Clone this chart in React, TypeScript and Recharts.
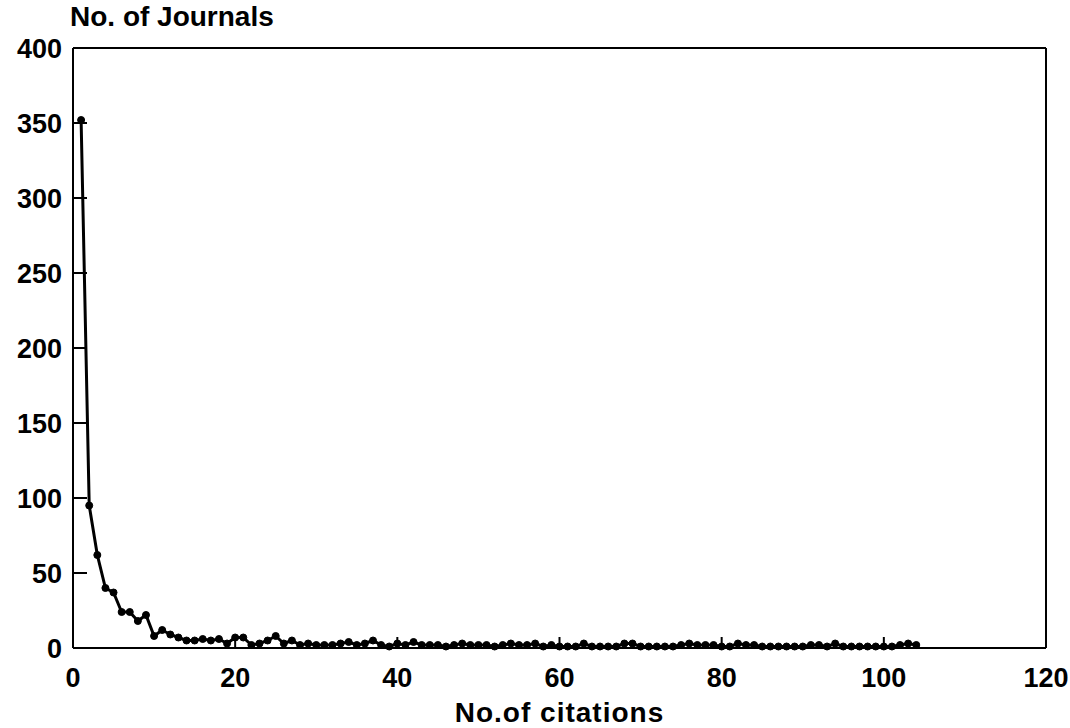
import { Line, LineChart, ReferenceLine, XAxis, YAxis } from 'recharts';

// number of citations received (x) and how many journals got that many (y)
const citations = [
    1, 2, 3, 4, 5, 6, 7, 8, 9, 10, 11, 12, 13, 14, 15, 16, 17, 18, 19, 20,
    21, 22, 23, 24, 25, 26, 27, 28, 29, 30, 31, 32, 33, 34, 35, 36, 37, 38, 39, 40,
    41, 42, 43, 44, 45, 46, 47, 48, 49, 50, 51, 52, 53, 54, 55, 56, 57, 58, 59, 60,
    61, 62, 63, 64, 65, 66, 67, 68, 69, 70, 71, 72, 73, 74, 75, 76, 77, 78, 79, 80,
    81, 82, 83, 84, 85, 86, 87, 88, 89, 90, 91, 92, 93, 94, 95, 96, 97, 98, 99, 100,
    101, 102, 103, 104,
];

const journals = [
    352, 95, 62, 40, 37, 24, 24, 18, 22, 8, 12, 9, 7, 5, 5, 6, 5, 6, 3, 7,
    7, 2, 3, 5, 8, 3, 5, 2, 3, 2, 2, 2, 3, 4, 2, 3, 5, 2, 1, 3,
    2, 4, 2, 2, 2, 1, 2, 3, 2, 2, 2, 1, 2, 3, 2, 2, 3, 1, 2, 1,
    1, 1, 3, 1, 1, 1, 1, 3, 3, 1, 1, 1, 1, 1, 2, 3, 2, 2, 2, 1,
    1, 3, 2, 2, 1, 1, 1, 1, 1, 1, 2, 2, 1, 3, 1, 1, 1, 1, 1, 1,
    1, 2, 3, 2,
];

const xTicks = [0, 20, 40, 60, 80, 100, 120];
const yTicks = [0, 50, 100, 150, 200, 250, 300, 350, 400];

const data = citations.map((c, i) => ({ citations: c, journals: journals[i] }));

const font = '"Liberation Sans", Arial, sans-serif';

// plot edges (from the chart margins / axis sizes below)
const PLOT_LEFT = 73;
const PLOT_BOTTOM = 648;
const TICK_LEN = 14;

const YTick = (props: any) => {
    const { y, payload } = props;
    return (
        <g>
            <path d={`M${PLOT_LEFT},${y}H${PLOT_LEFT + TICK_LEN}`} stroke="#000" strokeWidth={2} fill="none" />
            <text
                x={PLOT_LEFT - 11}
                y={y}
                dy="0.36em"
                textAnchor="end"
                fontSize={27}
                fontWeight={700}
                fontFamily={font}
                fill="#000"
            >
                {payload.value}
            </text>
        </g>
    );
};

const XTick = (props: any) => {
    const { x, payload } = props;
    return (
        <g>
            <path d={`M${x},${PLOT_BOTTOM}V${PLOT_BOTTOM - 11}`} stroke="#000" strokeWidth={2} fill="none" />
            <text
                x={x}
                y={PLOT_BOTTOM + 39}
                textAnchor="middle"
                fontSize={27}
                fontWeight={700}
                fontFamily={font}
                fill="#000"
            >
                {payload.value}
            </text>
        </g>
    );
};

const App = () => {
    return (
        <div style={{ position: 'absolute', left: 0, top: 0, width: 1070, height: 728 }}>
            <div
                style={{
                    position: 'absolute',
                    left: 70,
                    top: 1,
                    fontFamily: font,
                    fontWeight: 700,
                    fontSize: 28,
                    lineHeight: '32px',
                    color: '#000',
                }}
            >
                No. of Journals
            </div>
            <LineChart
                width={1070}
                height={728}
                data={data}
                margin={{ top: 48, right: 24, bottom: 0, left: 0 }}
            >
                <XAxis
                    dataKey="citations"
                    type="number"
                    domain={[0, 120]}
                    ticks={xTicks}
                    interval={0}
                    height={80}
                    tick={XTick}
                    tickLine={false}
                    stroke="#000"
                    strokeWidth={2}
                    label={{
                        value: 'No.of citations',
                        position: 'insideBottom',
                        offset: 6,
                        style: {
                            fontSize: 28,
                            fontWeight: 700,
                            fill: '#000',
                            fontFamily: font,
                            letterSpacing: 1,
                        },
                    }}
                />
                <YAxis
                    type="number"
                    domain={[0, 400]}
                    ticks={yTicks}
                    interval={0}
                    width={73}
                    tick={YTick}
                    tickLine={false}
                    stroke="#000"
                    strokeWidth={2}
                />
                {/* box frame: top and right edges */}
                <ReferenceLine y={400} stroke="#000" strokeWidth={2} />
                <ReferenceLine x={120} stroke="#000" strokeWidth={2} />
                <Line
                    type="linear"
                    dataKey="journals"
                    stroke="#000"
                    strokeWidth={3}
                    dot={{ r: 3.5, fill: '#000', stroke: '#000', strokeWidth: 1 }}
                    isAnimationActive={false}
                />
            </LineChart>
        </div>
    );
};

export default App;
